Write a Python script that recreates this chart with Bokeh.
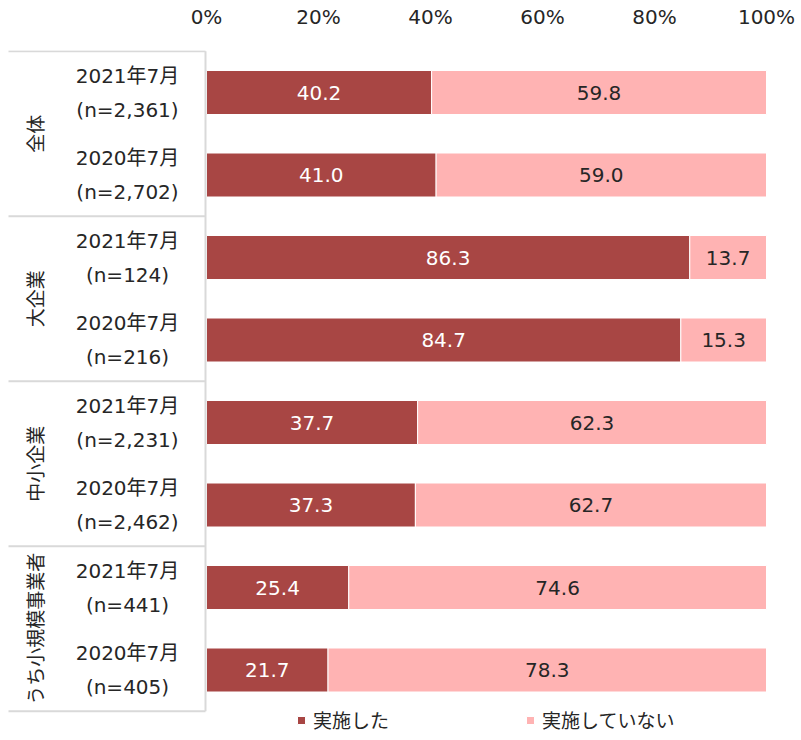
from bokeh.plotting import figure
from bokeh.models import Range1d, FixedTicker, PrintfTickFormatter, Legend, LegendItem, ColumnDataSource
from bokeh.core.properties import value
from bokeh.embed import file_html
from bokeh.resources import INLINE
import math

# ---- data ----
groups = ["全体", "大企業", "中小企業", "うち小規模事業者"]
periods = ["2021年7月", "2020年7月", "2021年7月", "2020年7月",
           "2021年7月", "2020年7月", "2021年7月", "2020年7月"]
n_labels = ["(n=2,361)", "(n=2,702)", "(n=124)", "(n=216)",
            "(n=2,231)", "(n=2,462)", "(n=441)", "(n=405)"]
implemented = [40.2, 41.0, 86.3, 84.7, 37.7, 37.3, 25.4, 21.7]
not_implemented = [59.8, 59.0, 13.7, 15.3, 62.3, 62.7, 74.6, 78.3]
series_names = ["実施した", "実施していない"]
x_ticks = [0, 20, 40, 60, 80, 100]

DARK = "#A84644"
PINK = "#FFB3B3"
GRID = "#D9D9D9"
TXT = "#262626"
FONT = "DejaVu Sans, Noto Sans CJK JP"
FS = "20px"

W, H = 795, 736
PX_PER_PCT = 5.6
ZERO_PX = 206
ROW_PX = 82.5
TOP_BORDER = 50
frame_h = H - TOP_BORDER
y_top = -42 / ROW_PX
y_bottom = y_top + frame_h / ROW_PX

p = figure(width=W, height=H, output_backend="svg", toolbar_location=None,
           x_range=Range1d(-ZERO_PX / PX_PER_PCT, (W - ZERO_PX) / PX_PER_PCT),
           y_range=Range1d(y_bottom, y_top),
           x_axis_location="above", y_axis_location=None,
           min_border_left=0, min_border_right=0, min_border_bottom=0,
           min_border_top=TOP_BORDER)
p.outline_line_color = None
p.xgrid.grid_line_color = None
p.ygrid.grid_line_color = None

ax = p.xaxis[0]
ax.ticker = FixedTicker(ticks=x_ticks)
ax.formatter = PrintfTickFormatter(format="%d%%")
ax.axis_line_color = None
ax.major_tick_line_color = None
ax.minor_tick_line_color = None
ax.major_label_standoff = 16
ax.major_label_text_font = FONT
ax.major_label_text_font_size = FS
ax.major_label_text_color = TXT

rows = list(range(len(implemented)))
src = ColumnDataSource(dict(
    y=rows,
    imp=implemented,
    tot=[a + b for a, b in zip(implemented, not_implemented)],
    imp_mid=[a / 2 for a in implemented],
    not_mid=[a + b / 2 for a, b in zip(implemented, not_implemented)],
    imp_txt=[f"{v:.1f}" for v in implemented],
    not_txt=[f"{v:.1f}" for v in not_implemented],
))

bar_h = 44 / ROW_PX
r_dark = p.hbar(y="y", left=0, right="imp", height=bar_h, source=src,
                fill_color=DARK, line_color="white", line_width=1)
r_pink = p.hbar(y="y", left="imp", right="tot", height=bar_h, source=src,
                fill_color=PINK, line_color="white", line_width=1)

p.text(x="imp_mid", y="y", text="imp_txt", source=src, text_color="white",
       text_font=value(FONT), text_font_size=FS,
       text_align="center", text_baseline="middle")
p.text(x="not_mid", y="y", text="not_txt", source=src, text_color=TXT,
       text_font=value(FONT), text_font_size=FS,
       text_align="center", text_baseline="middle")

# left table: period and n labels
label_x = (127 - ZERO_PX) / PX_PER_PCT
off = 17 / ROW_PX
p.text(x=label_x, y=[r - off for r in rows], text=periods,
       text_color=TXT, text_font=value(FONT), text_font_size=FS,
       text_align="center", text_baseline="middle")
p.text(x=label_x, y=[r + off for r in rows], text=n_labels,
       text_color=TXT, text_font=value(FONT), text_font_size=FS,
       text_align="center", text_baseline="middle")

# group labels (vertical)
grp_x = (35 - ZERO_PX) / PX_PER_PCT
grp_y = [2 * i + 0.5 for i in range(len(groups))]
p.text(x=grp_x, y=grp_y, text=groups, angle=math.pi / 2,
       text_color=TXT, text_font=value(FONT), text_font_size="19px",
       text_align="center", text_baseline="middle")

# table lines
left_x = (8 - ZERO_PX) / PX_PER_PCT
line_x = (205 - ZERO_PX) / PX_PER_PCT
bounds = [2 * i - 0.5 for i in range(len(groups) + 1)]
p.segment(x0=left_x, x1=line_x, y0=bounds, y1=bounds,
          line_color=GRID, line_width=2)
p.segment(x0=[line_x], x1=[line_x], y0=[bounds[0]], y1=[bounds[-1]],
          line_color=GRID, line_width=2)

# legends
def make_legend(label, r, xpx):
    return Legend(items=[LegendItem(label=label, renderers=[r])],
                  location=(xpx, 3), orientation="horizontal",
                  padding=0, margin=0, border_line_color=None,
                  background_fill_alpha=0,
                  glyph_width=10, glyph_height=10, label_standoff=7,
                  label_height=20,
                  label_text_font=FONT, label_text_font_size="19px",
                  label_text_color=TXT)

p.add_layout(make_legend(series_names[0], r_dark, 296))
p.add_layout(make_legend(series_names[1], r_pink, 525))

open("out.html", "w").write(file_html(p, INLINE))
